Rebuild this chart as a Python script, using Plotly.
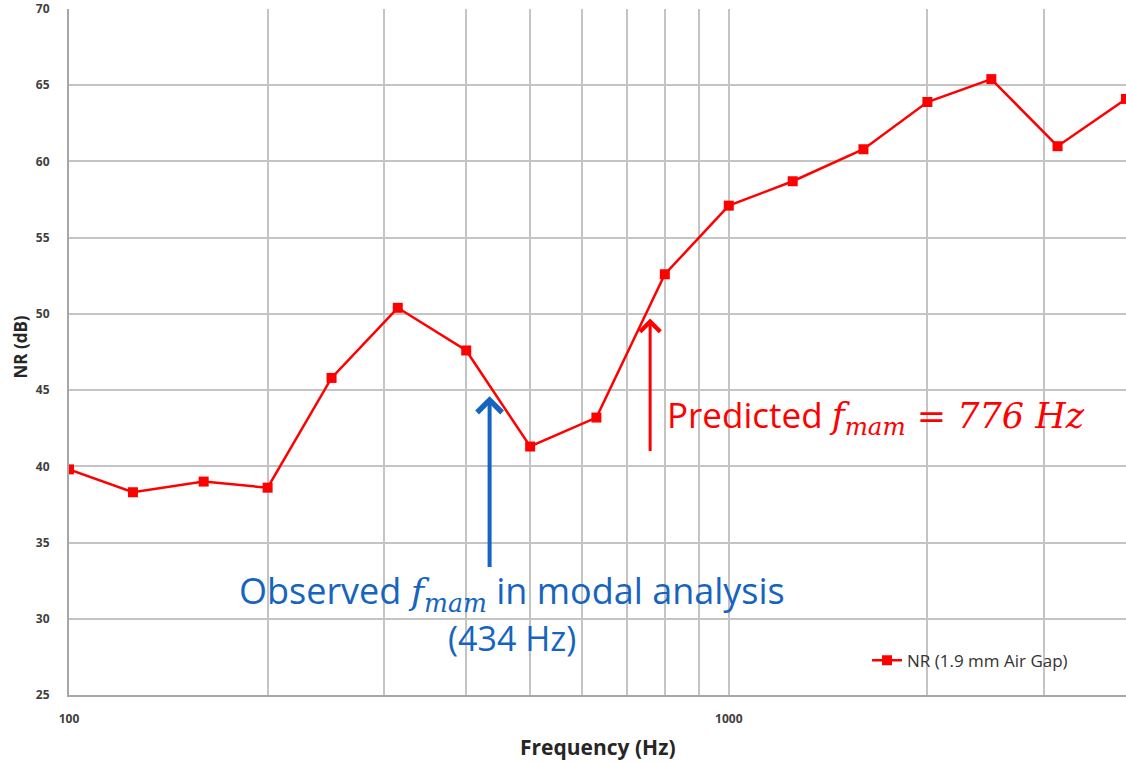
import math
import plotly.graph_objects as go

freq = [100, 125, 160, 200, 250, 315, 400, 500, 630, 800, 1000, 1250, 1600, 2000, 2500, 3150, 4000]
nr = [39.8, 38.3, 39.0, 38.6, 45.8, 50.4, 47.6, 41.3, 43.2, 52.6, 57.1, 58.7, 60.8, 63.9, 65.4, 61.0, 64.1]

observed_f = 434
predicted_f = 760  # arrow drawn just left of the 800 Hz point

RED = "#ff0000"
BLUE = "#1565c0"
GRID = "#c4c4c4"
TICK = "#404040"
MATH = "font-family:'DejaVu Serif';font-style:italic"

fig = go.Figure()
fig.add_trace(go.Scatter(
    x=freq, y=nr, mode="lines+markers", name="NR (1.9 mm Air Gap)",
    line=dict(color=RED, width=2.5),
    marker=dict(symbol="square", size=10, color=RED),
    cliponaxis=True,
))

fig.update_xaxes(
    type="log", range=[2, math.log10(4000)], automargin=False,
    tickvals=[100, 1000], ticktext=["100", "1000"],
    showgrid=True, gridcolor=GRID, gridwidth=1.5,
    minor=dict(showgrid=True, gridcolor=GRID, gridwidth=1.5,
               tickvals=[200, 300, 400, 500, 600, 700, 800, 900, 2000, 3000]),
    showline=True, linecolor="#a6a6a6", linewidth=2,
    ticks="", ticklabelstandoff=12,
    tickfont=dict(family="Open Sans", size=12, color=TICK, weight="bold"),
    zeroline=False,
)
fig.update_yaxes(
    range=[25, 70], dtick=5, automargin=False,
    showgrid=True, gridcolor=GRID, gridwidth=1.5,
    showline=True, linecolor="#a6a6a6", linewidth=2,
    ticks="", ticklabelstandoff=15,
    tickfont=dict(family="Open Sans", size=12, color=TICK, weight="bold"),
    zeroline=False,
)

# axis titles
fig.add_annotation(x=0.5, y=-0.076, xref="paper", yref="paper", showarrow=False,
                   xanchor="center", yanchor="middle",
                   text="<b>Frequency (Hz)</b>",
                   font=dict(family="Open Sans", size=21, color="#262626"))
fig.add_annotation(x=-0.046, y=0.507, xref="paper", yref="paper", showarrow=False,
                   xanchor="center", yanchor="middle",
                   text="<b>NR (dB)</b>", textangle=-90,
                   font=dict(family="Open Sans", size=17, color="#262626"))

# arrows
fig.add_annotation(x=math.log10(observed_f), y=44.6, ax=math.log10(observed_f), ay=33.3,
                   xref="x", yref="y", axref="x", ayref="y", text="", showarrow=True,
                   arrowhead=4, arrowsize=1.2, arrowwidth=4, arrowcolor=BLUE)
fig.add_annotation(x=math.log10(predicted_f), y=49.7, ax=math.log10(predicted_f), ay=40.9,
                   xref="x", yref="y", axref="x", ayref="y", text="", showarrow=True,
                   arrowhead=4, arrowsize=1.3, arrowwidth=3, arrowcolor=RED)

# labels
fig.add_annotation(x=math.log10(470), y=31.75, xref="x", yref="y", showarrow=False,
                   text="Observed <span style=\"" + MATH + "\">f<sub>mam</sub></span> in modal analysis",
                   font=dict(family="Open Sans", size=36, color=BLUE))
fig.add_annotation(x=math.log10(470), y=28.75, xref="x", yref="y", showarrow=False,
                   text="(434 Hz)", font=dict(family="Open Sans", size=34, color=BLUE))
fig.add_annotation(x=math.log10(800), y=43.3, xref="x", yref="y", showarrow=False,
                   xanchor="left",
                   text="Predicted <span style=\"" + MATH + "\">f<sub>mam</sub> = 776 Hz</span>",
                   font=dict(family="Open Sans", size=35, color=RED))

fig.update_layout(
    width=1126, height=763,
    margin=dict(l=69, r=0, t=9, b=68),
    plot_bgcolor="white", paper_bgcolor="white",
    showlegend=True,
    legend=dict(x=0.755, y=0.05, xanchor="left", yanchor="middle",
                bgcolor="rgba(0,0,0,0)",
                font=dict(family="Open Sans", size=17, color="#333333")),
)

# page body has an 8px default margin; drop it so the figure fills the window
fig.write_html("out.html", config={"displayModeBar": False},
               post_script="document.body.style.margin='0';document.body.style.overflow='hidden';")
